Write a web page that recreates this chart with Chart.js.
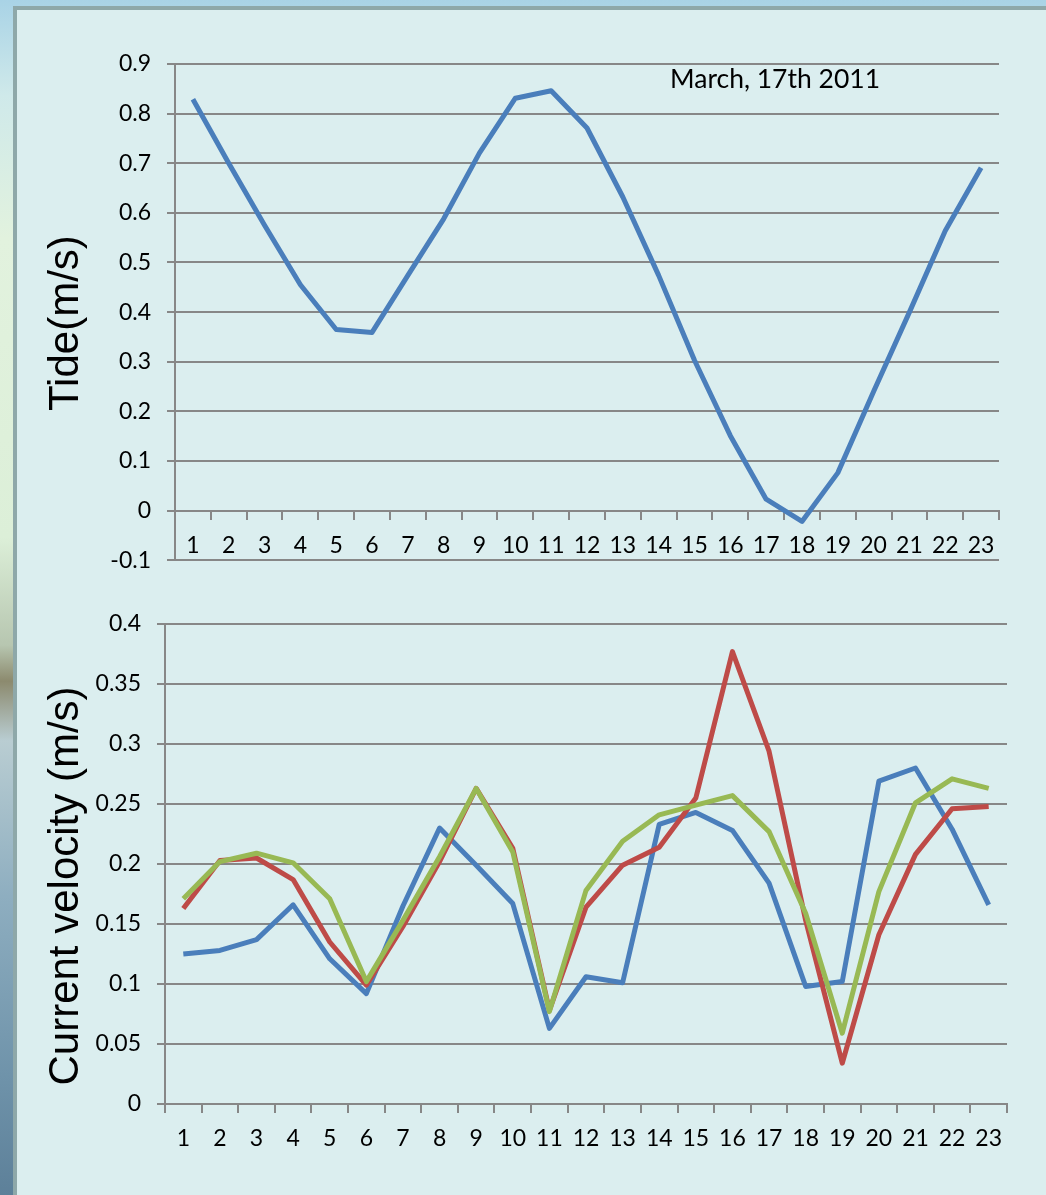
<!DOCTYPE html>
<html>
<head>
<meta charset="utf-8">
<script src="https://cdn.jsdelivr.net/npm/chart.js@4.4.1/dist/chart.umd.min.js"></script>
<style>
  html, body { margin: 0; padding: 0; }
  body {
    width: 1046px; height: 1195px; position: relative; overflow: hidden;
    background: linear-gradient(180deg, #a9d3e6 0%, #cfe9ea 8%, #e2f2de 20%, #dcefd8 45%, #b7c6b0 54%, #8c8a6e 57%, #b9cdd2 62%, #8eaec0 75%, #6f93aa 90%, #5d8099 100%);
  }
  #panel {
    position: absolute; left: 13px; top: 6px; width: 1060px; height: 1220px;
    border-left: 4px solid #8ea8a9; border-top: 4px solid #8ea8a9;
    background: #dbeeef;
  }
  canvas { position: absolute; left: 0; }
  #tideChart { top: 0; }
  #velChart { top: 590px; }
</style>
</head>
<body>
<div id="panel"></div>
<canvas id="tideChart" width="1046" height="590"></canvas>
<canvas id="velChart" width="1046" height="605"></canvas>
<script>
const hours = ['1','2','3','4','5','6','7','8','9','10','11','12','13','14','15','16','17','18','19','20','21','22','23']
const tide = [0.829, 0.70, 0.575, 0.455, 0.365, 0.359, 0.474, 0.588, 0.721, 0.831, 0.846, 0.771, 0.632, 0.474, 0.303, 0.151, 0.023, -0.022, 0.076, 0.24, 0.40, 0.564, 0.691]
const velBlue = [0.125, 0.128, 0.137, 0.166, 0.121, 0.092, 0.165, 0.230, 0.199, 0.167, 0.063, 0.106, 0.101, 0.233, 0.243, 0.228, 0.184, 0.098, 0.102, 0.269, 0.280, 0.229, 0.166]
const velRed = [0.163, 0.203, 0.205, 0.187, 0.135, 0.099, 0.148, 0.202, 0.263, 0.213, 0.078, 0.164, 0.199, 0.214, 0.255, 0.377, 0.294, 0.153, 0.034, 0.141, 0.208, 0.246, 0.248]
const velGreen = [0.171, 0.202, 0.209, 0.201, 0.171, 0.102, 0.153, 0.206, 0.263, 0.210, 0.077, 0.178, 0.219, 0.241, 0.249, 0.257, 0.227, 0.159, 0.059, 0.177, 0.251, 0.271, 0.263]
const dateNote = 'March, 17th 2011'

const gridCol = '#878787'
const tickFont = { family: 'Lato, "Open Sans", sans-serif', size: 23 }

Chart.defaults.animation = false
Chart.defaults.color = '#000'

function line(data, color, order) {
  return { data, borderColor: color, borderWidth: 5, pointRadius: 0, tension: 0, fill: false, order, borderJoinStyle: 'round' }
}

function xAxis() {
  return {
    type: 'category',
    position: { y: 0 },
    offset: true,
    grid: { drawOnChartArea: false, drawTicks: true, tickLength: 8, color: gridCol, lineWidth: 2, offset: true },
    border: { color: gridCol, width: 2 },
    ticks: { font: tickFont, padding: 13, maxRotation: 0, autoSkip: false }
  }
}

function yAxis(min, max, step, width) {
  return {
    min, max,
    afterFit: s => { s.width = width },
    grid: { color: gridCol, lineWidth: 2, tickLength: 8 },
    border: { color: gridCol, width: 2 },
    ticks: { stepSize: step, font: tickFont, padding: 16, callback: v => String(+v.toFixed(2)) }
  }
}

// y axis title, drawn a bit below the plot centre like the original
function yTitle(text, shift) {
  return {
    id: 'ytitle',
    afterDraw(chart) {
      const {ctx, chartArea} = chart
      ctx.save()
      ctx.translate(66, (chartArea.top + chartArea.bottom) / 2 + shift)
      ctx.rotate(-Math.PI / 2)
      ctx.font = '42px "Liberation Sans", Arial, sans-serif'
      ctx.fillStyle = '#000'
      ctx.textAlign = 'center'
      ctx.textBaseline = 'middle'
      ctx.fillText(text, 0, 0)
      ctx.restore()
    }
  }
}

const notePlugin = {
  id: 'note',
  afterDraw(chart) {
    const {ctx, chartArea} = chart
    ctx.save()
    ctx.font = '26.5px Lato, "Open Sans", sans-serif'
    ctx.fillStyle = '#000'
    ctx.textBaseline = 'alphabetic'
    ctx.fillText(dateNote, chartArea.left + 495, chartArea.top + 24)
    ctx.restore()
  }
}

new Chart(document.querySelector('#tideChart'), {
  type: 'line',
  data: { labels: hours, datasets: [line(tide, '#4a7ebb', 0)] },
  options: {
    responsive: false,
    layout: { padding: { top: 64, bottom: 26, left: 0, right: 47 } },
    plugins: { legend: { display: false }, tooltip: { enabled: false } },
    scales: { x: xAxis(), y: yAxis(-0.1, 0.9, 0.1, 175) }
  },
  plugins: [notePlugin, yTitle('Tide(m/s)', 11)]
})

new Chart(document.querySelector('#velChart'), {
  type: 'line',
  data: {
    labels: hours,
    datasets: [
      line(velBlue, '#4a7ebb', 2),
      line(velRed, '#be4b48', 1),
      line(velGreen, '#98b954', 0)
    ]
  },
  options: {
    responsive: false,
    layout: { padding: { top: 34, bottom: 91, left: 0, right: 39 } },
    plugins: { legend: { display: false }, tooltip: { enabled: false } },
    scales: { x: xAxis(), y: yAxis(0, 0.4, 0.05, 165) }
  },
  plugins: [yTitle('Current velocity (m/s)', 22)]
})
</script>
</body>
</html>
